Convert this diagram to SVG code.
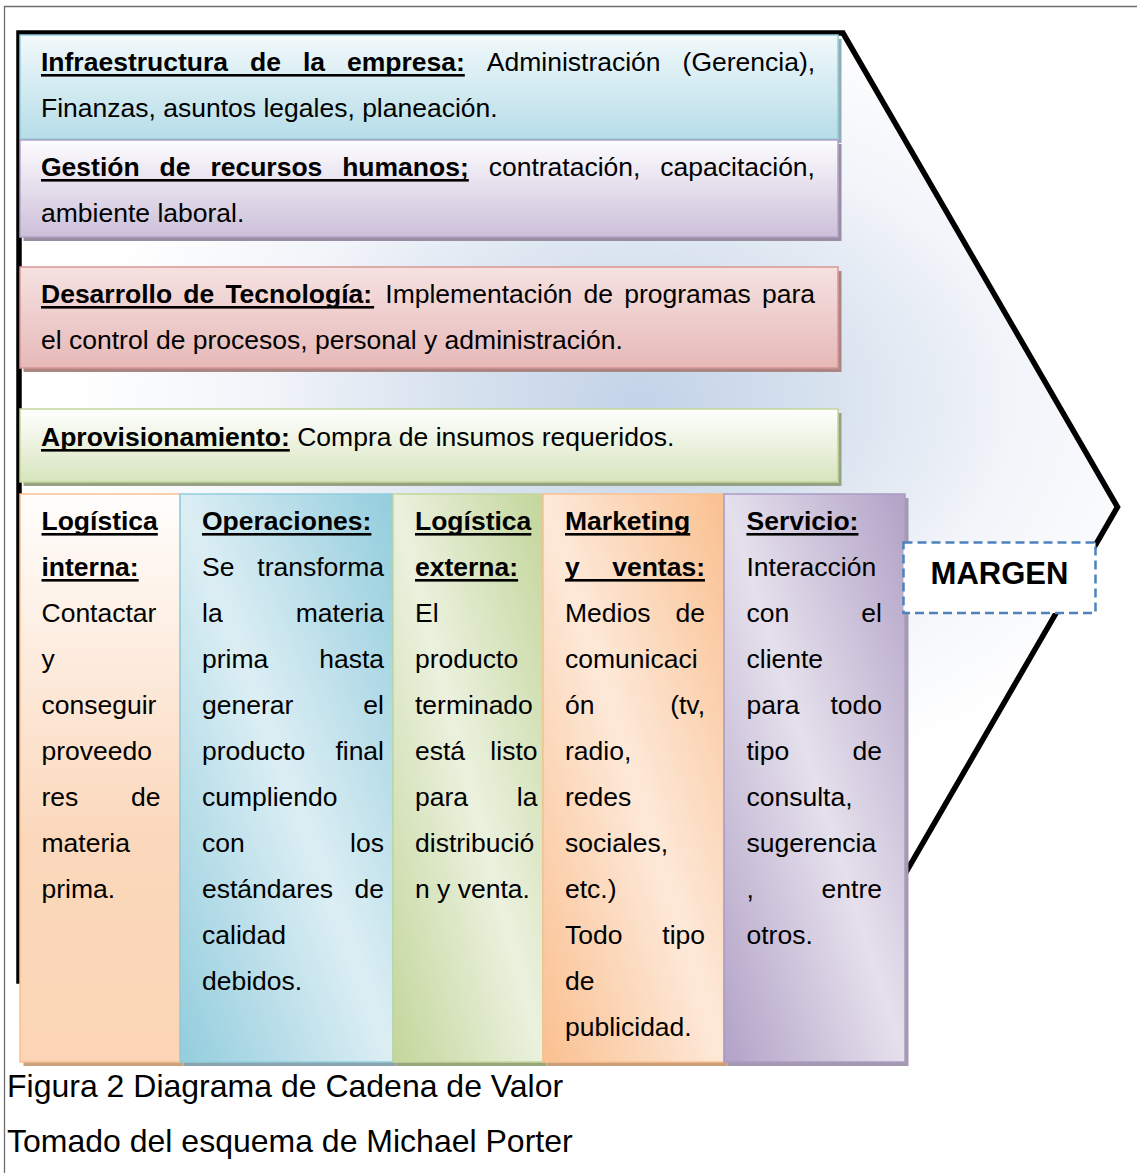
<svg xmlns="http://www.w3.org/2000/svg" width="1137" height="1173" viewBox="0 0 1137 1173">
  <defs>
    <style>
      text { font-family: "Liberation Sans", Arial, sans-serif; font-size: 26.5px; fill: #000; }
      .b { font-weight: bold; }
      .e { text-anchor: end; }
      .ul { fill: #000; }
      .cap { font-size: 32px; }
      .frame { stroke: #6e6e6e; stroke-width: 1.3; fill: none; }
      .margen { font-size: 31px; font-weight: bold; text-anchor: middle; }
    </style>
    <!-- soft blue glow inside the chevron -->
    <radialGradient id="bg" gradientUnits="userSpaceOnUse" cx="640" cy="400" r="570"
                    gradientTransform="translate(640 400) scale(1 0.7) translate(-640 -400)">
      <stop offset="0" stop-color="#c3d3e8"/>
      <stop offset="0.35" stop-color="#d9e3ef"/>
      <stop offset="0.65" stop-color="#f1f4f9"/>
      <stop offset="1" stop-color="#ffffff"/>
    </radialGradient>
    <!-- support activities: vertical fades -->
    <linearGradient id="g-infra" x1="0" y1="0" x2="0" y2="1">
      <stop offset="0" stop-color="#f2f9fb"/>
      <stop offset="1" stop-color="#b6dde8"/>
    </linearGradient>
    <linearGradient id="g-rrhh" x1="0" y1="0" x2="0" y2="1">
      <stop offset="0" stop-color="#fdfcfe"/>
      <stop offset="1" stop-color="#ccc0da"/>
    </linearGradient>
    <linearGradient id="g-tec" x1="0" y1="0" x2="0" y2="1">
      <stop offset="0" stop-color="#f5e2e1"/>
      <stop offset="1" stop-color="#e6b9b8"/>
    </linearGradient>
    <linearGradient id="g-apro" x1="0" y1="0" x2="0" y2="1">
      <stop offset="0" stop-color="#ffffff"/>
      <stop offset="1" stop-color="#d7e4bd"/>
    </linearGradient>
    <!-- primary activities -->
    <linearGradient id="g-li" x1="0" y1="0" x2="0" y2="1">
      <stop offset="0" stop-color="#fffefd"/>
      <stop offset="0.6" stop-color="#fbd8bc"/>
      <stop offset="1" stop-color="#fbd5b5"/>
    </linearGradient>
    <linearGradient id="g-op" x1="1" y1="0" x2="0" y2="1">
      <stop offset="0" stop-color="#93cddd"/>
      <stop offset="0.5" stop-color="#dceef4"/>
      <stop offset="1" stop-color="#93cddd"/>
    </linearGradient>
    <linearGradient id="g-le" x1="1" y1="0" x2="0" y2="1">
      <stop offset="0" stop-color="#c3d69b"/>
      <stop offset="0.5" stop-color="#ebf1de"/>
      <stop offset="1" stop-color="#c3d69b"/>
    </linearGradient>
    <linearGradient id="g-mk" x1="1" y1="0" x2="0" y2="1">
      <stop offset="0" stop-color="#fac090"/>
      <stop offset="0.5" stop-color="#fde9d9"/>
      <stop offset="1" stop-color="#fac090"/>
    </linearGradient>
    <linearGradient id="g-sv" x1="1" y1="0" x2="0" y2="1">
      <stop offset="0" stop-color="#b2a2c7"/>
      <stop offset="0.5" stop-color="#e5e0ec"/>
      <stop offset="1" stop-color="#b2a2c7"/>
    </linearGradient>
  </defs>

  <rect width="1137" height="1173" fill="#ffffff"/>

  <!-- table cell border -->
  <path class="frame" d="M4.5,1173 V6.5 H1137"/>

  <!-- value chain chevron -->
  <polygon id="cadena" points="19,33 843,33 1117.5,507 843,981 19,981"
           fill="url(#bg)" stroke="#000" stroke-width="5.5" stroke-linejoin="miter"/>

  <g id="connectors"/>

  <!-- support activities -->
  <g id="infraestructura">
    <rect x="23.5" y="39" width="818" height="104" fill="#94abb3"/>
    <rect x="20" y="35" width="818" height="104" fill="url(#g-infra)" stroke="#93cddd" stroke-width="1.5"/>
    <text y="71"><tspan class="b" x="41">Infraestructura</tspan><tspan class="b" x="250">de</tspan><tspan class="b" x="302.9">la</tspan><tspan class="b" x="347">empresa:</tspan><tspan x="486.8">Administración</tspan><tspan x="682.6">(Gerencia),</tspan></text>
    <rect class="ul" x="41" y="74" width="423.8" height="2.6"/>
    <text x="41" y="117">Finanzas, asuntos legales, planeación.</text>
  </g>

  <g id="recursos-humanos">
    <rect x="23.5" y="144" width="818" height="97" fill="#978ea3"/>
    <rect x="20" y="140" width="818" height="97" fill="url(#g-rrhh)" stroke="#b2a2c7" stroke-width="1.5"/>
    <text y="176"><tspan class="b" x="41">Gestión</tspan><tspan class="b" x="159.6">de</tspan><tspan class="b" x="210.4">recursos</tspan><tspan class="b" x="342.2">humanos;</tspan><tspan x="488.7">contratación,</tspan><tspan x="660.3">capacitación,</tspan></text>
    <rect class="ul" x="41" y="179" width="427.8" height="2.6"/>
    <text x="41" y="222">ambiente laboral.</text>
  </g>

  <g id="tecnologia">
    <rect x="23.5" y="271" width="818" height="101" fill="#a98584"/>
    <rect x="20" y="267" width="818" height="101" fill="url(#g-tec)" stroke="#d99694" stroke-width="1.5"/>
    <text y="303"><tspan class="b" x="41">Desarrollo</tspan><tspan class="b" x="183.3">de</tspan><tspan class="b" x="225.4">Tecnología:</tspan><tspan x="385.3">Implementación</tspan><tspan x="583.5">de</tspan><tspan x="624.2">programas</tspan><tspan x="762">para</tspan></text>
    <rect class="ul" x="41" y="306" width="333.1" height="2.6"/>
    <text x="41" y="349">el control de procesos, personal y administración.</text>
  </g>

  <g id="aprovisionamiento">
    <rect x="23.5" y="413" width="818" height="73" fill="#96a283"/>
    <rect x="20" y="409" width="818" height="73" fill="url(#g-apro)" stroke="#c3d69b" stroke-width="1.5"/>
    <text x="41" y="446"><tspan class="b">Aprovisionamiento:</tspan> Compra de insumos requeridos.</text>
    <rect class="ul" x="41" y="449" width="248.8" height="2.6"/>
  </g>

  <!-- primary activities -->
  <g id="logistica-interna">
    <rect x="23.5" y="498" width="160" height="568" fill="#c9a27e"/>
    <rect x="20" y="494" width="160" height="568" fill="url(#g-li)" stroke="#fac090" stroke-width="1.5"/>
    <text class="b" x="41.5" y="530">Logística</text>
    <rect class="ul" x="41.5" y="533" width="116.3" height="2.6"/>
    <text class="b" x="41.5" y="576">interna:</text>
    <rect class="ul" x="41.5" y="579" width="97.2" height="2.6"/>
    <text x="41.5" y="622">Contactar</text>
    <text x="41.5" y="668">y</text>
    <text x="41.5" y="714">conseguir</text>
    <text x="41.5" y="760">proveedo</text>
    <text x="41.5" y="806">res</text><text class="e" x="160.5" y="806">de</text>
    <text x="41.5" y="852">materia</text>
    <text x="41.5" y="898">prima.</text>
  </g>

  <g id="operaciones">
    <rect x="183.5" y="498" width="213" height="568" fill="#8aa4ad"/>
    <rect x="180" y="494" width="213" height="568" fill="url(#g-op)" stroke="#93cddd" stroke-width="1.5"/>
    <text class="b" x="202" y="530">Operaciones:</text>
    <rect class="ul" x="202" y="533" width="169.4" height="2.6"/>
    <text x="202" y="576">Se</text><text class="e" x="384" y="576">transforma</text>
    <text x="202" y="622">la</text><text class="e" x="384" y="622">materia</text>
    <text x="202" y="668">prima</text><text class="e" x="384" y="668">hasta</text>
    <text x="202" y="714">generar</text><text class="e" x="384" y="714">el</text>
    <text x="202" y="760">producto</text><text class="e" x="384" y="760">final</text>
    <text x="202" y="806">cumpliendo</text>
    <text x="202" y="852">con</text><text class="e" x="384" y="852">los</text>
    <text x="202" y="898">estándares</text><text class="e" x="384" y="898">de</text>
    <text x="202" y="944">calidad</text>
    <text x="202" y="990">debidos.</text>
  </g>

  <g id="logistica-externa">
    <rect x="396.5" y="498" width="150" height="568" fill="#98a57d"/>
    <rect x="393" y="494" width="150" height="568" fill="url(#g-le)" stroke="#c3d69b" stroke-width="1.5"/>
    <text class="b" x="415" y="530">Logística</text>
    <rect class="ul" x="415" y="533" width="116.3" height="2.6"/>
    <text class="b" x="415" y="576">externa:</text>
    <rect class="ul" x="415" y="579" width="103.1" height="2.6"/>
    <text x="415" y="622">El</text>
    <text x="415" y="668">producto</text>
    <text x="415" y="714">terminado</text>
    <text x="415" y="760">está</text><text class="e" x="537.5" y="760">listo</text>
    <text x="415" y="806">para</text><text class="e" x="537.5" y="806">la</text>
    <text x="415" y="852">distribució</text>
    <text x="415" y="898">n y venta.</text>
  </g>

  <g id="marketing-ventas">
    <rect x="546.5" y="498" width="181" height="568" fill="#c9a07a"/>
    <rect x="543" y="494" width="181" height="568" fill="url(#g-mk)" stroke="#fac090" stroke-width="1.5"/>
    <text class="b" x="565" y="530">Marketing</text>
    <rect class="ul" x="565" y="533" width="125.2" height="2.6"/>
    <text class="b" x="565" y="576">y</text><text class="b e" x="705" y="576">ventas:</text>
    <rect class="ul" x="565" y="579" width="140" height="2.6"/>
    <text x="565" y="622">Medios</text><text class="e" x="705" y="622">de</text>
    <text x="565" y="668">comunicaci</text>
    <text x="565" y="714">ón</text><text class="e" x="705" y="714">(tv,</text>
    <text x="565" y="760">radio,</text>
    <text x="565" y="806">redes</text>
    <text x="565" y="852">sociales,</text>
    <text x="565" y="898">etc.)</text>
    <text x="565" y="944">Todo</text><text class="e" x="705" y="944">tipo</text>
    <text x="565" y="990">de</text>
    <text x="565" y="1036">publicidad.</text>
  </g>

  <g id="servicio">
    <rect x="727.5" y="498" width="181" height="568" fill="#a39ab0"/>
    <rect x="724" y="494" width="181" height="568" fill="url(#g-sv)" stroke="#ab9bc3" stroke-width="1.5"/>
    <text class="b" x="746.5" y="530">Servicio:</text>
    <rect class="ul" x="746.5" y="533" width="111.9" height="2.6"/>
    <text x="746.5" y="576">Interacción</text>
    <text x="746.5" y="622">con</text><text class="e" x="882" y="622">el</text>
    <text x="746.5" y="668">cliente</text>
    <text x="746.5" y="714">para</text><text class="e" x="882" y="714">todo</text>
    <text x="746.5" y="760">tipo</text><text class="e" x="882" y="760">de</text>
    <text x="746.5" y="806">consulta,</text>
    <text x="746.5" y="852">sugerencia</text>
    <text x="746.5" y="898">,</text><text class="e" x="882" y="898">entre</text>
    <text x="746.5" y="944">otros.</text>
  </g>

  <g id="margen">
    <rect x="903.5" y="542.5" width="192" height="70.5" fill="#ffffff" stroke="#4f81bd" stroke-width="2.5" stroke-dasharray="9 5"/>
    <text class="margen" x="999.5" y="584">MARGEN</text>
  </g>

  <!-- caption -->
  <text class="cap" x="7" y="1097">Figura 2 Diagrama de Cadena de Valor</text>
  <text class="cap" x="7" y="1152">Tomado del esquema de Michael Porter</text>
</svg>
